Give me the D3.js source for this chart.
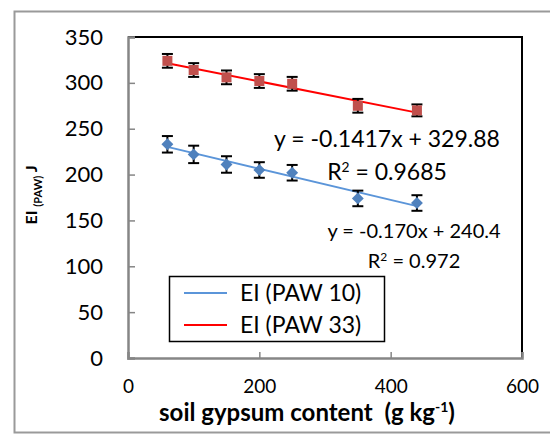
<!DOCTYPE html>
<html>
<head>
<meta charset="utf-8">
<script src="https://cdn.jsdelivr.net/npm/d3@7"></script>
<style>
  body { margin: 0; background: #fff; }
  svg { display: block; font-family: Lato, "Open Sans", sans-serif; }
</style>
</head>
<body>
<div id="chart"></div>
<script>
// data
const gypsum = [60, 100, 150, 200, 250, 350, 440];
const paw10 = [233, 222, 211, 205, 202, 174, 169];
const paw33 = [324, 314, 306, 302, 299, 275, 270];
const err10 = [9, 9.5, 9, 8.5, 8.5, 8.5, 8.5];
const err33 = [7.5, 7.5, 7.5, 7.5, 7.5, 7.5, 6.5];
const xTicks = [0, 200, 400, 600];
const yTicks = [0, 50, 100, 150, 200, 250, 300, 350];
// trendline fits shown on the chart
const fit10 = { slope: -0.170, icpt: 240.4, eq: "y = -0.170x + 240.4", r2: "0.972" };
const fit33 = { slope: -0.1417, icpt: 329.88, eq: "y = -0.1417x + 329.88", r2: "0.9685" };

const W = 550, H = 435;
const plot = { left: 128, top: 37, right: 522, bottom: 358 };

const svg = d3.select("#chart").append("svg")
    .attr("width", W).attr("height", H);

// outer frame
svg.append("rect")
    .attr("x", 14.5).attr("y", 11.5)
    .attr("width", 560).attr("height", 421)
    .attr("fill", "none").attr("stroke", "#9a9a9a").attr("stroke-width", 2);

const x = d3.scaleLinear().domain([0, 600]).range([plot.left, plot.right]);
const y = d3.scaleLinear().domain([0, 350]).range([plot.bottom, plot.top]);

// top / right border of plot area
svg.append("path")
    .attr("d", `M${plot.left},${plot.top}H${plot.right}V${plot.bottom}`)
    .attr("fill", "none").attr("stroke", "#000").attr("stroke-width", 2);

// axes (ticks inside)
const yAxis = svg.append("g")
    .attr("transform", `translate(${plot.left},0)`)
    .call(d3.axisLeft(y).tickValues(yTicks).tickSize(-7).tickPadding(25));
const xAxis = svg.append("g")
    .attr("transform", `translate(0,${plot.bottom})`)
    .call(d3.axisBottom(x).tickValues(xTicks).tickSize(-6).tickPadding(22));

[yAxis, xAxis].forEach(g => {
    g.select(".domain").attr("stroke", "#868686").attr("stroke-width", 2.5);
    g.selectAll(".tick line").attr("stroke", "#868686").attr("stroke-width", 1.5);
    g.selectAll(".tick text").attr("fill", "#000").style("font-family", "Lato, sans-serif");
});
yAxis.selectAll(".tick text").style("font-size", "22px");
xAxis.selectAll(".tick text").style("font-size", "19px");

// trendlines
const trend = [
    { fit: fit10, color: "#5b95d9" },
    { fit: fit33, color: "#ff0000" }
];
const xMin = d3.min(gypsum), xMax = d3.max(gypsum);
trend.forEach(t => {
    svg.append("line")
        .attr("x1", x(xMin)).attr("y1", y(t.fit.slope * xMin + t.fit.icpt))
        .attr("x2", x(xMax)).attr("y2", y(t.fit.slope * xMax + t.fit.icpt))
        .attr("stroke", t.color).attr("stroke-width", 2);
});

// error bars
function errorBars(vals, errs) {
    const g = svg.append("g").attr("stroke", "#000").attr("stroke-width", 2);
    gypsum.forEach((gx, i) => {
        const cx = x(gx), y0 = y(vals[i] - errs[i]), y1 = y(vals[i] + errs[i]);
        g.append("line").attr("x1", cx).attr("x2", cx).attr("y1", y0).attr("y2", y1);
        g.append("line").attr("x1", cx - 5.5).attr("x2", cx + 5.5).attr("y1", y0).attr("y2", y0);
        g.append("line").attr("x1", cx - 5.5).attr("x2", cx + 5.5).attr("y1", y1).attr("y2", y1);
    });
}
errorBars(paw10, err10);
errorBars(paw33, err33);

// markers
svg.append("g").selectAll("path")
    .data(gypsum.map((g, i) => [g, paw10[i]]))
    .join("path")
    .attr("d", d3.symbol(d3.symbolDiamond2, 90))
    .attr("transform", d => `translate(${x(d[0])},${y(d[1])})`)
    .attr("fill", "#4f81bd");
svg.append("g").selectAll("rect")
    .data(gypsum.map((g, i) => [g, paw33[i]]))
    .join("rect")
    .attr("x", d => x(d[0]) - 5).attr("y", d => y(d[1]) - 5)
    .attr("width", 10).attr("height", 10)
    .attr("fill", "#c0504d");

// equation labels
const lab = svg.append("g").attr("text-anchor", "middle").attr("fill", "#000");
function eqLabel(cx, by, size, fit, gap) {
    lab.append("text").attr("x", cx).attr("y", by).style("font-size", size + "px").text(fit.eq);
    const r = lab.append("text").attr("x", cx).attr("y", by + gap).style("font-size", size + "px");
    r.append("tspan").text("R");
    r.append("tspan").attr("font-size", size * 0.6 + "px").attr("dy", -size * 0.33).text("2");
    r.append("tspan").attr("dy", size * 0.33).text(" = " + fit.r2);
}
eqLabel(387, 147, 23, fit33, 33);
eqLabel(414, 238, 20, fit10, 30);

// legend
const leg = svg.append("g");
leg.append("rect")
    .attr("x", 169.5).attr("y", 276.5).attr("width", 215).attr("height", 65)
    .attr("fill", "#fff").attr("stroke", "#000").attr("stroke-width", 1.5);
[["EI (PAW 10)", "#5b95d9", 293], ["EI (PAW 33)", "#ff0000", 325]].forEach(([name, col, ly]) => {
    leg.append("line").attr("x1", 184).attr("x2", 227).attr("y1", ly).attr("y2", ly)
        .attr("stroke", col).attr("stroke-width", 2);
    leg.append("text").attr("x", 240).attr("y", ly + 8).style("font-size", "23px").text(name);
});

// axis titles
const xt = svg.append("text")
    .attr("x", 307).attr("y", 421).attr("text-anchor", "middle")
    .style("font-size", "24px").style("font-weight", "bold");
xt.append("tspan").text("soil gypsum content\u00a0 (g kg");
xt.append("tspan").attr("font-size", "14px").attr("dy", -9).text("-1");
xt.append("tspan").attr("dy", 9).text(")");

const yt = svg.append("text")
    .attr("transform", "translate(37,195) rotate(-90)")
    .attr("text-anchor", "middle")
    .style("font-size", "16px").style("font-weight", "bold");
yt.append("tspan").text("EI ");
yt.append("tspan").attr("font-size", "11px").attr("dy", 5).text("(PAW)");
yt.append("tspan").attr("dy", -5).text(" J");
</script>
</body>
</html>
